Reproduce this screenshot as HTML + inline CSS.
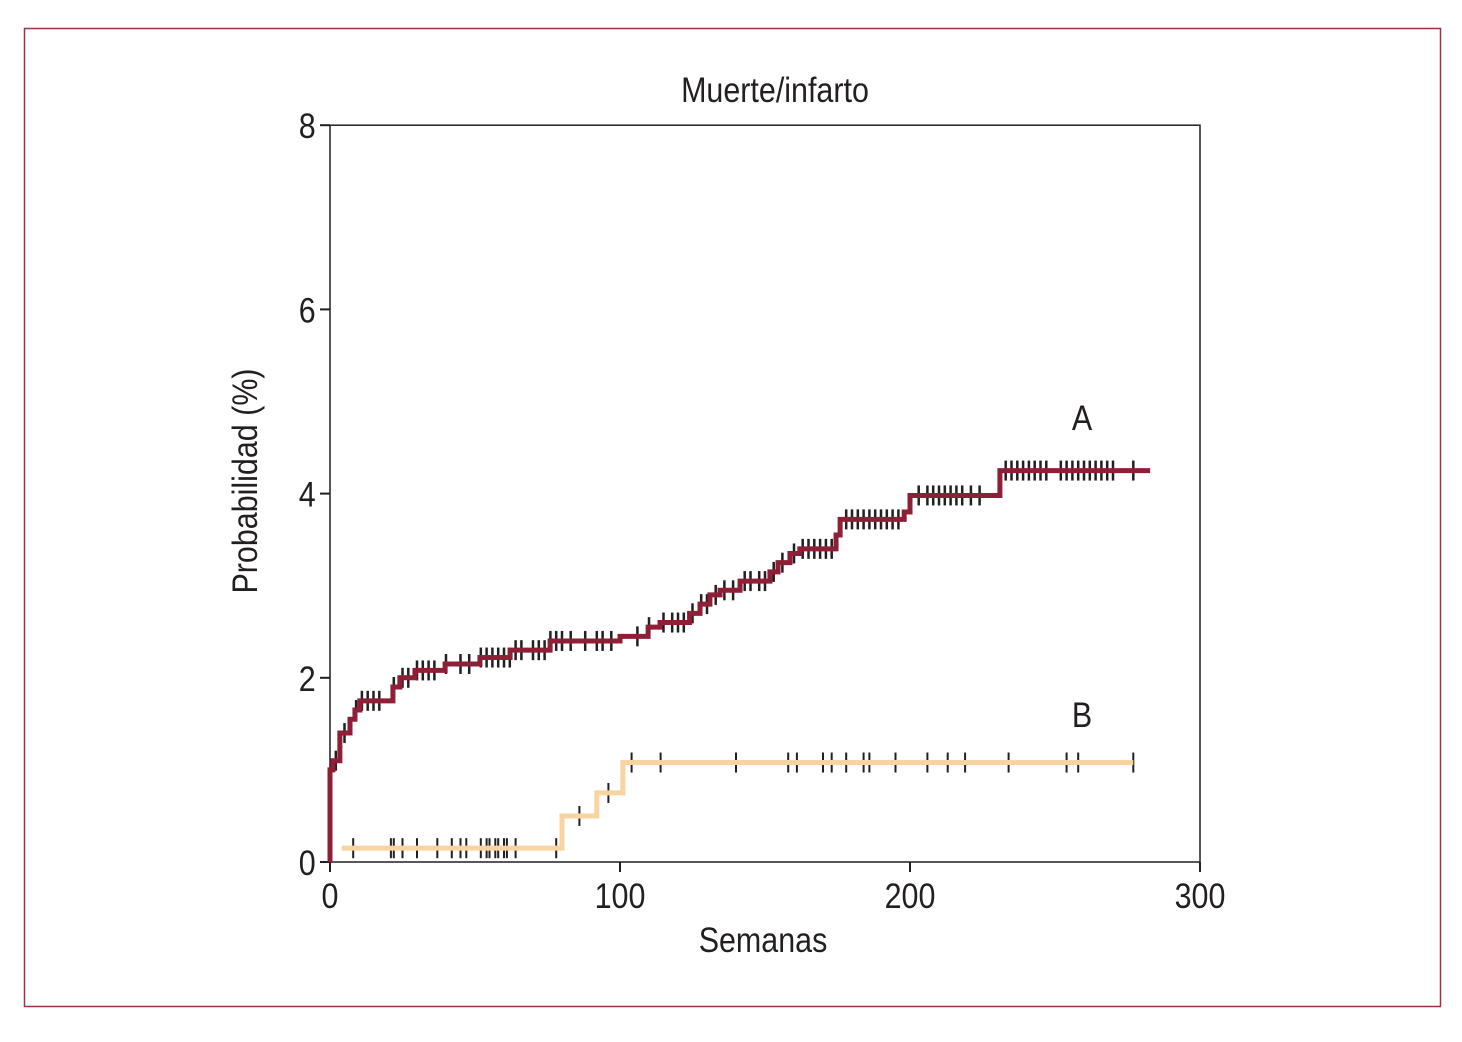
<!DOCTYPE html>
<html><head><meta charset="utf-8"><style>
body{margin:0;background:#fff;}
svg text{font-family:"Liberation Sans Narrow","Liberation Sans",sans-serif;fill:#231f20;font-size:35px;transform-box:fill-box;transform-origin:center;transform:scaleX(0.87);}
</style></head><body>
<svg width="1462" height="1037" viewBox="0 0 1462 1037">
<rect x="24.5" y="28.5" width="1416" height="978" fill="none" stroke="#9b3346" stroke-width="1.5"/>
<text x="775" y="102" text-anchor="middle">Muerte/infarto</text>
<g id="plot"></g>
<text x="763" y="952" text-anchor="middle">Semanas</text>
<g transform="translate(257,481) rotate(-90)"><text x="0" y="0" text-anchor="middle">Probabilidad (%)</text></g>
<text x="1082" y="430" text-anchor="middle">A</text>
<text x="1082" y="727" text-anchor="middle">B</text>
</svg>
<script>
const xTicks=[0,100,200,300];
const yTicks=[0,2,4,6,8];
const seriesAx=[0,1,3.4,6.9,8.6,10.3,21.7,24.1,29.3,39.7,51.7,62.1,75.9,100,109.7,113.8,124,127.6,131,134.5,141.4,151.7,154.5,158.6,162,174.5,175.9,198,200,231,282.8];
const seriesAy=[1.0,1.1,1.4,1.55,1.65,1.75,1.9,2.0,2.08,2.15,2.22,2.3,2.4,2.45,2.55,2.6,2.7,2.8,2.9,2.95,3.05,3.15,3.25,3.35,3.4,3.55,3.72,3.8,3.98,4.25,4.25];
const seriesBx=[4,80,92,101,277];
const seriesBy=[0.15,0.5,0.75,1.08,1.08];
const censorA=[2,5,9,11,13,15,17,22,25,27,30,32,34,36,40,45,48,52,54,56,58,60,62,64,66,70,72,74,76,78,80,83,88,92,94,97,106,110,115,118,120,122,125,128,130,133,136,139,143,145,148,150,153,156,160,163,165,167,169,171,173,178,180,182,184,186,188,190,192,194,196,203,206,208,210,212,214,216,218,221,224,233,235,237,239,241,243,245,247,252,254,256,258,260,262,264,266,268,270,277];
const censorB=[8,21,22,25,30,37,42,45,47,52,54,55,57,58,60,61,64,78,86,96,104,114,140,158,161,170,173,178,184,186,195,206,213,219,234,254,258,277];
const X=v=>330+v*2.9, Y=v=>862-v*92.1;
const NS='http://www.w3.org/2000/svg', g=document.getElementById('plot');
function mk(t,a){const e=document.createElementNS(NS,t);for(const k in a)e.setAttribute(k,a[k]);g.appendChild(e);return e;}
const frame=mk('rect',{x:X(0),y:Y(8),width:X(300)-X(0),height:Y(0)-Y(8),fill:'none',stroke:'#231f20','stroke-width':1.5});


xTicks.forEach(v=>{const l=mk('line',{x1:X(v),x2:X(v),y1:Y(0),y2:Y(0)+10,stroke:'#231f20','stroke-width':2});


const t=mk('text',{x:X(v),y:Y(0)+46,'text-anchor':'middle'});t.textContent=v;

});
yTicks.forEach(v=>{const l=mk('line',{x1:X(0)-10,x2:X(0),y1:Y(v),y2:Y(v),stroke:'#231f20','stroke-width':2});


const t=mk('text',{x:X(0)-13,y:Y(v)+13,'text-anchor':'end'});t.textContent=v;

});
function stepVal(xs,ys,x){let v=ys[0];for(let i=0;i<xs.length;i++){if(xs[i]<=x)v=ys[i];}return v;}
function stepPath(xs,ys,start){let d='M'+X(xs[0])+','+Y(start);for(let i=0;i<xs.length;i++){d+=' L'+X(xs[i])+','+Y(i?ys[i-1]:start)+' L'+X(xs[i])+','+Y(ys[i]);}return d;}
censorA.forEach(c=>{const y=Y(stepVal(seriesAx,seriesAy,c));const l=mk('line',{x1:X(c),x2:X(c),y1:y-10,y2:y+10,stroke:'#231f20','stroke-width':2.5});

});
censorB.forEach(c=>{const y=Y(stepVal(seriesBx,seriesBy,c));const l=mk('line',{x1:X(c),x2:X(c),y1:y-10,y2:y+10,stroke:'#231f20','stroke-width':2});

});
const pA=mk('path',{d:stepPath(seriesAx,seriesAy,0),fill:'none',stroke:'#8e1f36','stroke-width':5});


const pB=mk('path',{d:'M'+X(seriesBx[0])+','+Y(seriesBy[0])+stepPath(seriesBx.slice(1),seriesBy.slice(1),seriesBy[0]).replace(/^M[^ ]+/,''),fill:'none',stroke:'#f8d4a0','stroke-width':5});


</script>
</body></html>
